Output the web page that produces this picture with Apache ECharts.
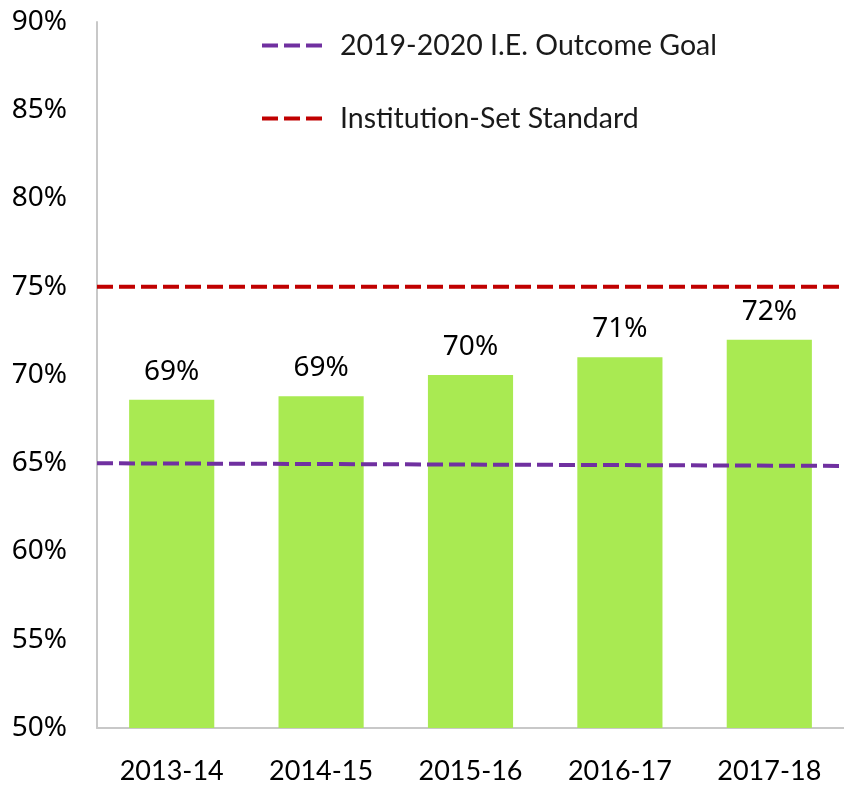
<!DOCTYPE html>
<html>
<head>
<meta charset="utf-8">
<script src="https://cdn.jsdelivr.net/npm/echarts@6/dist/echarts.min.js"></script>
<style>html,body{margin:0;padding:0;background:#fff}#c{width:844px;height:785px}</style>
</head>
<body>
<div id="c"></div>
<script>
var categories = ['2013-14', '2014-15', '2015-16', '2016-17', '2017-18'];
var rates = [68.6, 68.8, 70.0, 71.0, 72.0];
var rateLabels = ['69%', '69%', '70%', '71%', '72%'];
var goalLine = [[0, 65.0], [1, 64.85]];
var standardLine = [[0, 75.0], [1, 75.0]];
var yTicks = [50, 55, 60, 65, 70, 75, 80, 85, 90];

var chart = echarts.init(document.getElementById('c'), null, {renderer: 'canvas'});
chart.setOption({
  animation: false,
  grid: {left: 97, right: 0, top: 22, bottom: 56},
  legend: {
    orient: 'vertical',
    left: 255, top: 26,
    itemWidth: 65, itemHeight: 14, itemGap: 44,
    itemStyle: {opacity: 0},
    lineStyle: {width: 4, type: [16, 6]},
    data: [
      {name: '2019-2020 I.E. Outcome Goal', lineStyle: {width: 4, type: [16, 6], color: '#7030A0'}},
      {name: 'Institution-Set Standard', lineStyle: {width: 4, type: [16, 6], color: '#C00000'}}
    ],
    textStyle: {fontFamily: 'Lato', fontSize: 28.5, color: '#1a1a1a', padding: [0, 0, 0, 8]}
  },
  xAxis: [{
    type: 'category', data: categories,
    axisLine: {lineStyle: {color: '#c8c8c8', width: 2}},
    axisTick: {show: false},
    axisLabel: {fontFamily: 'Lato', fontSize: 27, color: '#000', margin: 30}
  }, {
    type: 'value', min: 0, max: 1, show: false
  }],
  yAxis: {
    type: 'value', min: 50, max: 90, interval: 5,
    axisLine: {show: true, lineStyle: {color: '#c8c8c8', width: 2}},
    axisTick: {show: false},
    splitLine: {show: false},
    axisLabel: {
      fontFamily: 'Noto Sans', fontSize: 28, color: '#000', margin: 30,
      formatter: function (v) { return yTicks.indexOf(v) >= 0 ? v + '%' : ''; }
    }
  },
  series: [{
    type: 'bar', data: rates, barWidth: '57%',
    itemStyle: {color: '#A9EA52'},
    label: {
      show: true, position: 'top', distance: 14,
      fontFamily: 'Noto Sans', fontSize: 28, color: '#000',
      formatter: function (p) { return rateLabels[p.dataIndex]; }
    }
  }, {
    name: '2019-2020 I.E. Outcome Goal', type: 'line', xAxisIndex: 1,
    data: goalLine, symbol: 'none', z: 5,
    lineStyle: {color: '#7030A0', width: 4, type: [16, 6]},
    itemStyle: {color: '#7030A0'}
  }, {
    name: 'Institution-Set Standard', type: 'line', xAxisIndex: 1,
    data: standardLine, symbol: 'none', z: 5,
    lineStyle: {color: '#C00000', width: 4, type: [16, 6]},
    itemStyle: {color: '#C00000'}
  }]
});
</script>
</body>
</html>
